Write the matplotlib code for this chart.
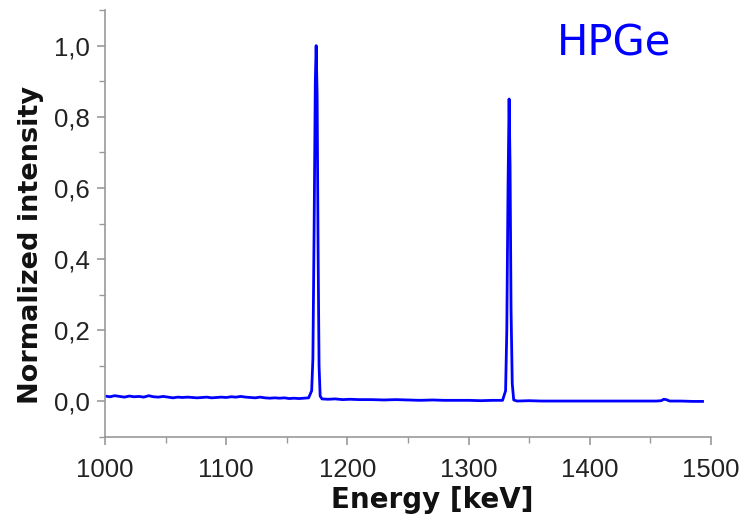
import matplotlib.pyplot as plt
import numpy as np
from matplotlib.ticker import MultipleLocator, FuncFormatter

# spectrum (energy in keV, normalized counts)
energy = [1000, 1004, 1008, 1012, 1016, 1020, 1024, 1028, 1032, 1036,
          1040, 1044, 1048, 1052, 1056, 1060, 1064, 1068, 1072, 1076,
          1080, 1084, 1088, 1092, 1096, 1100, 1104, 1108, 1112, 1116,
          1120, 1124, 1128, 1132, 1136, 1140, 1144, 1148, 1152, 1156,
          1160, 1164, 1168, 1170.5, 1171.5, 1172.5, 1173.5, 1174.2, 1175.0,
          1175.8, 1176.6, 1177.5, 1179, 1184, 1190, 1196, 1202, 1210,
          1220, 1230, 1240, 1250, 1260, 1270, 1280, 1290, 1300, 1310,
          1320, 1328, 1330.5, 1331.5, 1332.5, 1333.4, 1334.2, 1335.0,
          1336.0, 1337.2, 1340, 1350, 1360, 1380, 1400, 1420, 1440,
          1455, 1459, 1461, 1463, 1466, 1475, 1485, 1493]
intensity = [0.015, 0.013, 0.016, 0.014, 0.012, 0.015, 0.013, 0.014, 0.012, 0.016,
             0.013, 0.012, 0.014, 0.012, 0.010, 0.012, 0.011, 0.012, 0.011, 0.010,
             0.011, 0.012, 0.010, 0.011, 0.012, 0.011, 0.013, 0.012, 0.014, 0.012,
             0.011, 0.010, 0.012, 0.010, 0.009, 0.010, 0.009, 0.010, 0.008, 0.009,
             0.008, 0.009, 0.010, 0.03, 0.12, 0.48, 0.90, 1.00, 0.86,
             0.42, 0.10, 0.015, 0.007, 0.006, 0.007, 0.005, 0.006, 0.005,
             0.005, 0.004, 0.005, 0.004, 0.003, 0.004, 0.003, 0.003, 0.003, 0.002,
             0.003, 0.003, 0.03, 0.20, 0.60, 0.85, 0.66, 0.26,
             0.05, 0.004, 0.001, 0.002, 0.001, 0.001, 0.001, 0.001, 0.001,
             0.001, 0.002, 0.006, 0.005, 0.001, 0.001, 0.000, 0.000]

fig = plt.figure(figsize=(7.46, 5.15), dpi=100)
ax = fig.add_axes([0.1408, 0.1515, 0.8123, 0.829])

ax.plot(energy, intensity, color='#0000ff', linewidth=2.0)

ax.set_xlim(1000, 1500)
ax.set_ylim(-0.1, 1.1)
ax.xaxis.set_major_locator(MultipleLocator(100))
ax.xaxis.set_minor_locator(MultipleLocator(50))
ax.yaxis.set_major_locator(MultipleLocator(0.2))
ax.yaxis.set_minor_locator(MultipleLocator(0.1))
ax.yaxis.set_major_formatter(FuncFormatter(lambda v, p: f'{v:.1f}'.replace('.', ',')))

for s in ['top', 'right']:
    ax.spines[s].set_visible(False)
for s in ['left', 'bottom']:
    ax.spines[s].set_color('#999999')
    ax.spines[s].set_linewidth(1.2)

ax.tick_params(which='major', length=6, width=1.2, color='#999999',
               labelsize=18.5, labelcolor='#222222')
ax.tick_params(axis='x', which='major', pad=9)
ax.tick_params(axis='y', which='major', pad=5)
ax.tick_params(which='minor', length=4, width=1.0, color='#999999')
for lab in ax.get_xticklabels() + ax.get_yticklabels():
    lab.set_family('Liberation Sans')

ax.set_xlabel('Energy [keV]', fontsize=20, fontweight='bold', color='#111111')
ax.set_ylabel('Normalized intensity', fontsize=19.5, fontweight='bold', color='#111111')
ax.xaxis.set_label_coords(0.54, -0.115)
ax.yaxis.set_label_coords(-0.1, 0.45)

ax.text(0.745, 0.893, 'HPGe', transform=ax.transAxes, fontsize=30,
        color='#0000ff')

plt.savefig('out.png', dpi=100)
